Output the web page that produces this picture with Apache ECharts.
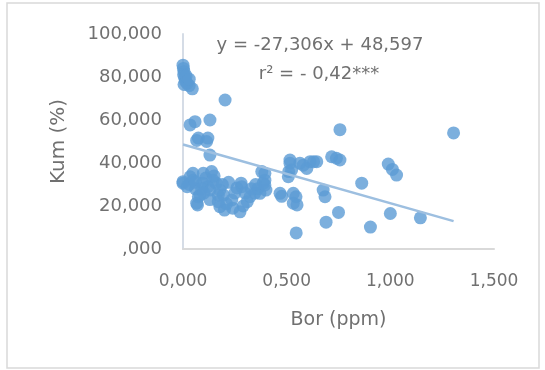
<!DOCTYPE html>
<html lang="tr">
<head>
    <meta charset="UTF-8">
    <title>Bor - Kum</title>
    <script src="https://cdnjs.cloudflare.com/ajax/libs/echarts/6.0.0/echarts.min.js"></script>
    <style>
        html, body { margin: 0; padding: 0; background: #fff; }
        #chart { width: 545px; height: 370px; }
    </style>
</head>
<body>
    <div id="chart"></div>
    <script>
        // Bor (ppm) degerleri
        const borValues = [
            0.000, 0.002, 0.005, 0.003, 0.008, 0.012, 0.020, 0.030, 0.045, 0.005, 0.015, 0.030,
            0.034, 0.058, 0.130, 0.203,
            0.066, 0.074, 0.114, 0.120, 0.130,
            0.000, 0.000, 0.020, 0.034, 0.048, 0.050, 0.060, 0.066, 0.070, 0.074, 0.082, 0.095,
            0.098, 0.110, 0.120, 0.130, 0.138, 0.145, 0.160, 0.170, 0.178, 0.178, 0.195, 0.200,
            0.210, 0.220, 0.235, 0.260, 0.275, 0.280, 0.283, 0.300, 0.323, 0.347, 0.360, 0.371,
            0.380, 0.387, 0.395, 0.395, 0.400, 0.395,
            0.030, 0.060, 0.090, 0.100, 0.130, 0.150, 0.170, 0.190, 0.240, 0.250, 0.290, 0.310,
            0.330, 0.350,
            0.468, 0.476, 0.508, 0.510, 0.516, 0.516, 0.524, 0.532, 0.532, 0.545, 0.550, 0.546,
            0.564, 0.580, 0.597, 0.613, 0.630, 0.645, 0.676, 0.685, 0.690, 0.717, 0.740, 0.757,
            0.750, 0.757,
            0.862, 0.904, 0.990, 1.010, 1.030, 1.000, 1.145, 1.305
        ];
        // Kum (%) degerleri
        const kumValues = [
            85.5, 84.0, 82.5, 81.0, 79.5, 78.0, 77.0, 76.0, 74.5, 76.5, 80.5, 79.0,
            57.7, 59.2, 60.0, 69.3,
            50.5, 51.6, 50.0, 51.6, 43.7,
            30.6, 31.3, 29.0, 33.6, 35.2, 32.0, 28.0, 21.3, 20.5, 24.3, 25.1, 30.6,
            35.2, 33.0, 29.0, 27.4, 36.0, 32.0, 30.6, 25.0, 27.4, 19.7, 25.1, 18.1,
            21.0, 31.0, 22.8, 28.4, 17.3, 30.6, 29.0, 26.0, 24.3, 26.0, 28.0, 25.9,
            36.0, 30.6, 32.0, 35.2, 27.4, 29.8,
            30.0, 31.0, 28.0, 26.0, 23.0, 34.0, 22.0, 30.0, 19.0, 26.0, 20.0, 22.0,
            28.0, 30.0,
            25.9, 24.5, 33.6, 36.0, 39.9, 41.4, 36.7, 25.9, 21.3, 24.3, 20.5, 7.5,
            39.9, 39.0, 37.5, 40.6, 40.6, 40.6, 27.4, 24.3, 12.5, 42.9, 42.2, 41.4,
            17.0, 55.5,
            30.6, 10.2, 39.5, 37.0, 34.4, 16.5, 14.5, 54.0
        ];

        // Dogrusal egilim: y = -27,306x + 48,597
        const trendSlope = -27.306;
        const trendIntercept = 48.597;

        const xTickLabels = ['0,000', '0,500', '1,000', '1,500'];
        const yTickLabels = [',000', '20,000', '40,000', '60,000', '80,000', '100,000'];
        const equationText = 'y = -27,306x + 48,597';
        const rSquaredText = 'r² = - 0,42***';

        const points = borValues.map((b, i) => [b, kumValues[i]]);
        const xMin = Math.min(...borValues);
        const xMax = Math.max(...borValues);
        const trendData = [
            [xMin, trendSlope * xMin + trendIntercept],
            [xMax, trendSlope * xMax + trendIntercept]
        ];

        const textColor = '#707070';
        const font = 'DejaVu Sans';

        const chart = echarts.init(document.getElementById('chart'), null, { renderer: 'canvas' });

        chart.setOption({
            animation: false,
            backgroundColor: '#ffffff',
            grid: {
                left: 183,
                right: 51,
                top: 34,
                bottom: 121,
                outerBoundsMode: 'none'
            },
            xAxis: {
                type: 'value',
                min: 0,
                max: 1.5,
                interval: 0.5,
                name: 'Bor (ppm)',
                nameLocation: 'middle',
                nameGap: 62,
                nameTextStyle: { color: textColor, fontSize: 19, fontFamily: font },
                axisLine: { show: true, lineStyle: { color: '#d9d9d9', width: 2 } },
                axisTick: { show: false },
                splitLine: { show: false },
                axisLabel: {
                    margin: 24,
                    color: textColor,
                    fontSize: 17,
                    fontFamily: font,
                    formatter: v => xTickLabels[Math.round(v / 0.5)]
                }
            },
            yAxis: {
                type: 'value',
                min: 0,
                max: 100,
                interval: 20,
                name: 'Kum (%)',
                nameLocation: 'middle',
                nameGap: 114,
                nameTextStyle: { color: textColor, fontSize: 20, fontFamily: font },
                axisLine: { show: true, lineStyle: { color: '#d5dce6', width: 2 } },
                axisTick: { show: false },
                splitLine: { show: false },
                axisLabel: {
                    margin: 21,
                    color: textColor,
                    fontSize: 18,
                    fontFamily: font,
                    formatter: v => yTickLabels[Math.round(v / 20)]
                }
            },
            series: [
                {
                    name: 'Kum',
                    type: 'scatter',
                    data: points,
                    symbol: 'circle',
                    symbolSize: 13,
                    itemStyle: { color: '#5b9bd5' },
                    z: 2
                },
                {
                    name: 'Trend',
                    type: 'line',
                    data: trendData,
                    showSymbol: false,
                    lineStyle: { color: '#9dbfe0', width: 2.5 },
                    z: 3
                }
            ],
            graphic: [
                {
                    type: 'rect',
                    shape: { x: 7, y: 3, width: 532, height: 365 },
                    style: { fill: 'none', stroke: '#d9d9d9', lineWidth: 1.5 },
                    silent: true
                },
                {
                    type: 'text',
                    x: 320,
                    y: 45,
                    style: {
                        text: equationText,
                        fill: textColor,
                        fontSize: 18,
                        fontFamily: font,
                        align: 'center',
                        verticalAlign: 'middle'
                    }
                },
                {
                    type: 'text',
                    x: 319,
                    y: 74,
                    style: {
                        text: rSquaredText,
                        fill: textColor,
                        fontSize: 18,
                        fontFamily: font,
                        align: 'center',
                        verticalAlign: 'middle'
                    }
                }
            ]
        });
    </script>
</body>
</html>
